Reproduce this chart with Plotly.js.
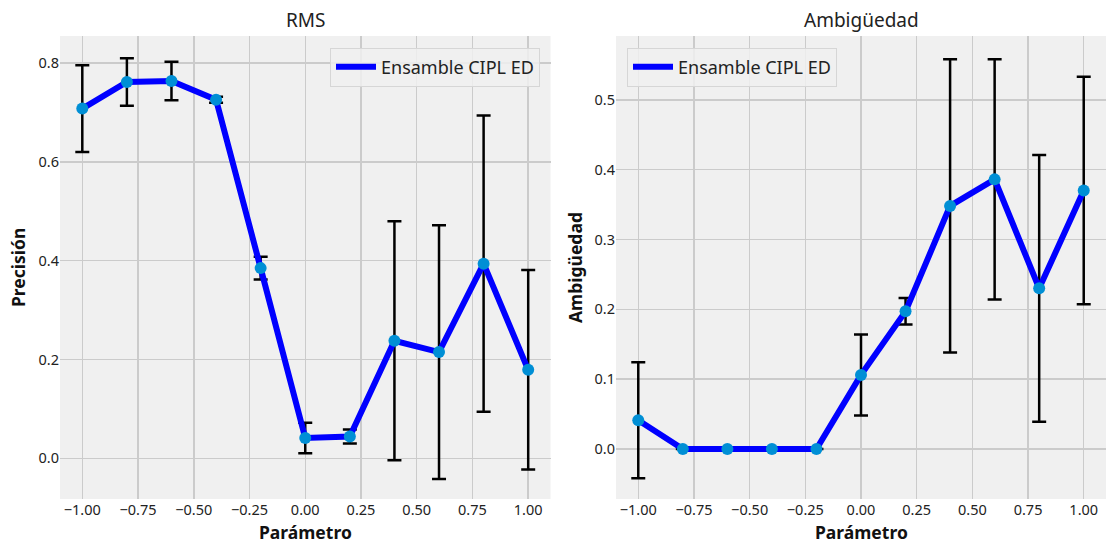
<!DOCTYPE html>
<html>
<head>
<meta charset="utf-8">
<script src="https://cdn.plot.ly/plotly-3.0.1.min.js"></script>
<style>html,body{margin:0;padding:0;background:#fff;}#chart{width:1106px;height:544px;}</style>
</head>
<body>
<div id="chart"></div>
<script>
// Data
const parametro = [-1.0, -0.8, -0.6, -0.4, -0.2, 0.0, 0.2, 0.4, 0.6, 0.8, 1.0];
const precision = [0.708, 0.762, 0.764, 0.726, 0.385, 0.041, 0.044, 0.238, 0.215, 0.394, 0.179];
const precisionErr = [0.088, 0.048, 0.039, 0.006, 0.023, 0.031, 0.014, 0.242, 0.257, 0.300, 0.202];
const ambiguedad = [0.041, 0.0, 0.0, 0.0, 0.0, 0.106, 0.197, 0.348, 0.386, 0.230, 0.370];
const ambiguedadErr = [0.083, 0.0, 0.0, 0.0, 0.0, 0.058, 0.019, 0.210, 0.172, 0.191, 0.163];
const seriesName = "Ensamble CIPL ED";
const xTicks = [-1.0, -0.75, -0.5, -0.25, 0.0, 0.25, 0.5, 0.75, 1.0];
const yTicksLeft = [0.0, 0.2, 0.4, 0.6, 0.8];
const yTicksRight = [0.0, 0.1, 0.2, 0.3, 0.4, 0.5];

const FONT = "Noto Sans, Open Sans, DejaVu Sans, sans-serif";
const W = 1106, H = 544, T = 36, B = 45;
const ph = H - T - B;
const px = v => v / W;
const py = v => (H - B - v) / ph;

function errTrace(x, y, e, xa, ya) {
  return {
    x: x, y: y, xaxis: xa, yaxis: ya, type: 'scatter', mode: 'markers',
    marker: {size: 1, color: 'rgba(0,0,0,0)'}, showlegend: false, hoverinfo: 'skip',
    error_y: {type: 'data', array: e, visible: true, color: '#000', thickness: 2.5, width: 7}
  };
}
function lineTrace(x, y, xa, ya, lg) {
  return {
    x: x, y: y, xaxis: xa, yaxis: ya, type: 'scatter', mode: 'lines',
    name: seriesName, legend: lg,
    line: {color: '#0000ff', width: 6}
  };
}
function markTrace(x, y, xa, ya) {
  return {
    x: x, y: y, xaxis: xa, yaxis: ya, type: 'scatter', mode: 'markers',
    showlegend: false, marker: {size: 12, color: '#008fd5'}
  };
}

const traces = [
  errTrace(parametro, precision, precisionErr, 'x', 'y'),
  lineTrace(parametro, precision, 'x', 'y', 'legend'),
  markTrace(parametro, precision, 'x', 'y'),
  errTrace(parametro, ambiguedad, ambiguedadErr, 'x2', 'y2'),
  lineTrace(parametro, ambiguedad, 'x2', 'y2', 'legend2'),
  markTrace(parametro, ambiguedad, 'x2', 'y2')
];

const axisCommon = {
  showgrid: true, gridcolor: '#cbcbcb', gridwidth: 1.5, zeroline: false,
  showline: false, ticks: '', tickfont: {family: FONT, size: 14.5, color: '#222'}
};

const legendCommon = {
  yanchor: 'top', y: py(47.5),
  bgcolor: 'rgba(240,240,240,0.85)', bordercolor: '#d6d6d6', borderwidth: 1,
  itemwidth: 40, entrywidth: 205, entrywidthmode: 'pixels',
  font: {family: FONT, size: 18, color: '#222'}
};

const layout = {
  width: W, height: H,
  margin: {l: 0, r: 0, t: T, b: B},
  paper_bgcolor: '#ffffff',
  plot_bgcolor: '#f0f0f0',
  font: {family: FONT, color: '#222'},
  showlegend: true,
  xaxis: Object.assign({}, axisCommon, {domain: [px(60), px(550.5)], range: [-1.1, 1.1],
    tickvals: xTicks, tickformat: '.2f', anchor: 'y'}),
  yaxis: Object.assign({}, axisCommon, {range: [-0.0825, 0.855], tickvals: yTicksLeft,
    tickformat: '.1f', anchor: 'x'}),
  xaxis2: Object.assign({}, axisCommon, {domain: [px(616), 1], range: [-1.1, 1.1],
    tickvals: xTicks, tickformat: '.2f', anchor: 'y2'}),
  yaxis2: Object.assign({}, axisCommon, {range: [-0.0717, 0.5913], tickvals: yTicksRight,
    tickformat: '.1f', anchor: 'x2'}),
  legend: Object.assign({}, legendCommon, {x: px(540), xanchor: 'right'}),
  legend2: Object.assign({}, legendCommon, {x: px(627), xanchor: 'left'}),
  annotations: [
    {text: 'RMS', xref: 'paper', yref: 'paper', x: px(305), y: py(20), showarrow: false,
      xanchor: 'center', yanchor: 'middle', font: {family: FONT, size: 19, color: '#222'}},
    {text: 'Ambigüedad', xref: 'paper', yref: 'paper', x: px(861), y: py(20), showarrow: false,
      xanchor: 'center', yanchor: 'middle', font: {family: FONT, size: 19, color: '#222'}},
    {text: '<b>Parámetro</b>', xref: 'paper', yref: 'paper', x: px(305), y: py(532), showarrow: false,
      xanchor: 'center', yanchor: 'middle', font: {family: FONT, size: 17.5, color: '#111'}},
    {text: '<b>Parámetro</b>', xref: 'paper', yref: 'paper', x: px(861), y: py(532), showarrow: false,
      xanchor: 'center', yanchor: 'middle', font: {family: FONT, size: 17.5, color: '#111'}},
    {text: '<b>Precisión</b>', xref: 'paper', yref: 'paper', x: px(18), y: py(268), showarrow: false,
      textangle: -90, xanchor: 'center', yanchor: 'middle', font: {family: FONT, size: 17.5, color: '#111'}},
    {text: '<b>Ambigüedad</b>', xref: 'paper', yref: 'paper', x: px(575), y: py(268), showarrow: false,
      textangle: -90, xanchor: 'center', yanchor: 'middle', font: {family: FONT, size: 17.5, color: '#111'}}
  ]
};

Plotly.newPlot('chart', traces, layout, {displayModeBar: false, staticPlot: true});
</script>
</body>
</html>
